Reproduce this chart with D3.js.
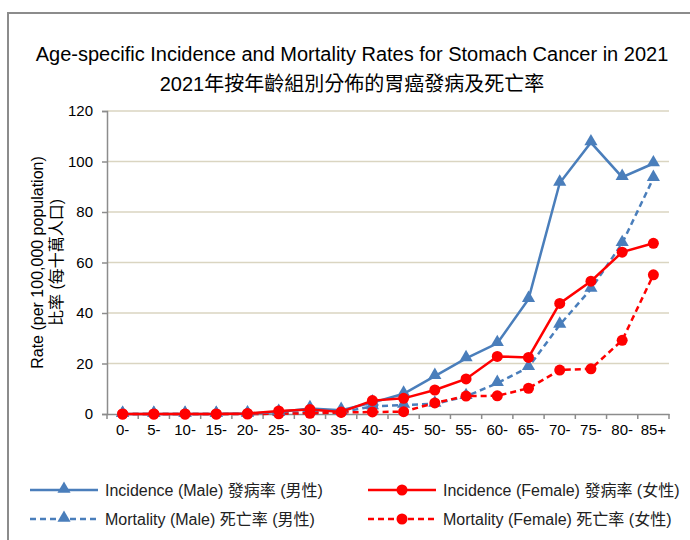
<!DOCTYPE html>
<html>
<head>
<meta charset="utf-8">
<script src="https://cdn.jsdelivr.net/npm/d3@7"></script>
<style>
  body { margin: 0; background: #fff; }
  text { font-family: "Liberation Sans", Arial, "Noto Sans CJK TC", sans-serif; }
</style>
</head>
<body>
<div id="display"></div>
<script>
// age groups and rates (per 100,000)
var ageGroups = ["0-","5-","10-","15-","20-","25-","30-","35-","40-","45-","50-","55-","60-","65-","70-","75-","80-","85+"];
var incidenceMale   = [0, 0, 0, 0, 0.2, 0.8, 2.2, 1.5, 4.5, 8, 15, 22, 28, 45.5, 91.5, 107.5, 93.8, 99.2];
var incidenceFemale = [0, 0, 0, 0, 0.2, 1.2, 1.8, 0.8, 5.3, 6.2, 9.5, 13.9, 22.8, 22.4, 43.8, 52.6, 64.1, 67.6];
var mortalityMale   = [0, 0, 0, 0, 0, 0.3, 0.8, 0.7, 3, 3.6, 4, 7, 12.2, 18.5, 35.3, 49.5, 67.6, 93.4];
var mortalityFemale = [0, 0, 0, 0, 0, 0.1, 0.3, 0.6, 0.8, 0.9, 4.4, 7.1, 7.2, 10.2, 17.4, 17.9, 29.2, 55.1];
var yTicks = [0, 20, 40, 60, 80, 100, 120];

var series = [
  {name: "Incidence (Male) 發病率 (男性)",     values: incidenceMale,   color: "#4A7EBB", dash: null,  marker: "tri"},
  {name: "Incidence (Female) 發病率 (女性)",   values: incidenceFemale, color: "#FF0000", dash: null,  marker: "circle"},
  {name: "Mortality (Male) 死亡率 (男性)",     values: mortalityMale,   color: "#4A7EBB", dash: "6,4", marker: "tri"},
  {name: "Mortality (Female) 死亡率 (女性)",   values: mortalityFemale, color: "#FF0000", dash: "6,4", marker: "circle"}
];

var W = 690, H = 540;
var svg = d3.select("#display").append("svg")
    .attr("width", W).attr("height", H);

// outer frame
svg.append("rect")
    .attr("x", 8).attr("y", 13).attr("width", 700).attr("height", 560)
    .attr("fill", "none").attr("stroke", "#8c8c8c").attr("stroke-width", 2);

// titles
svg.append("text").attr("x", 352).attr("y", 61).attr("text-anchor", "middle")
    .attr("font-size", 20).attr("fill", "#000")
    .text("Age-specific Incidence and Mortality Rates for Stomach Cancer in 2021");
svg.append("text").attr("x", 352).attr("y", 91).attr("text-anchor", "middle")
    .attr("font-size", 20).attr("fill", "#000")
    .text("2021年按年齡組別分佈的胃癌發病及死亡率");

var plotL = 107, plotR = 669, plotT = 111, plotB = 414;

var x = d3.scaleBand().domain(ageGroups).range([plotL, plotR]);
var y = d3.scaleLinear().domain([0, 120]).range([plotB, plotT]);
var cx = function(i) { return x(ageGroups[i]) + x.bandwidth() / 2; };

// gridlines
svg.append("g").selectAll("line")
  .data(yTicks.filter(function(d){ return d > 0; }))
  .enter().append("line")
    .attr("x1", plotL).attr("x2", plotR)
    .attr("y1", function(d){ return y(d); }).attr("y2", function(d){ return y(d); })
    .attr("stroke", "#DAD5C1").attr("stroke-width", 1.5);

// y axis
var yAxis = svg.append("g")
  .attr("transform", "translate(" + plotL + ",0)")
  .call(d3.axisLeft(y).tickValues(yTicks).tickSize(5).tickPadding(9));
yAxis.selectAll("text").attr("font-size", 15).attr("fill", "#000")
    .style("font-family", "'Liberation Sans', Arial, sans-serif");
yAxis.selectAll("line, path").attr("stroke", "#8c8c8c").attr("stroke-width", 1.5);

// x axis (labels centered, ticks between categories)
var xAxis = svg.append("g")
  .attr("transform", "translate(0," + plotB + ")")
  .call(d3.axisBottom(x).tickSize(0).tickPadding(10));
xAxis.select(".domain").attr("stroke", "#8c8c8c").attr("stroke-width", 1.5);
xAxis.selectAll("text").attr("font-size", 15).attr("fill", "#000")
    .style("font-family", "'Liberation Sans', Arial, sans-serif");
var bounds = ageGroups.map(function(d){ return x(d); }).concat([plotR]);
xAxis.selectAll(".btick").data(bounds).enter().append("line")
    .attr("class", "btick")
    .attr("x1", function(d){ return d; }).attr("x2", function(d){ return d; })
    .attr("y1", 0).attr("y2", 5)
    .attr("stroke", "#8c8c8c").attr("stroke-width", 1.5);

// y axis title
var yt = svg.append("text")
  .attr("transform", "translate(43," + ((plotT + plotB) / 2) + ") rotate(-90)")
  .attr("text-anchor", "middle").attr("font-size", 16).attr("fill", "#000");
yt.append("tspan").attr("x", 0).attr("dy", 0).text("Rate (per 100,000 population)");
yt.append("tspan").attr("x", 0).attr("dy", 19).text("比率 (每十萬人口)");

var tri = d3.symbol().type(d3.symbolTriangle).size(75);

function drawMarker(g, type, color, px, py) {
  if (type === "tri") {
    g.append("path").attr("d", tri)
      .attr("transform", "translate(" + px + "," + (py - 1) + ")")
      .attr("fill", color);
  } else {
    g.append("circle").attr("cx", px).attr("cy", py).attr("r", 5.5).attr("fill", color);
  }
}

var line = d3.line()
  .x(function(d, i){ return cx(i); })
  .y(function(d){ return y(d); });

// draw mortality first, incidence on top
[2, 3, 0, 1].forEach(function(k) {
  var s = series[k];
  var g = svg.append("g");
  g.append("path").datum(s.values)
    .attr("d", line)
    .attr("fill", "none").attr("stroke", s.color).attr("stroke-width", 2.5)
    .attr("stroke-dasharray", s.dash);
  s.values.forEach(function(v, i) { drawMarker(g, s.marker, s.color, cx(i), y(v)); });
});

// legend
var legPos = [[30, 490], [368, 490], [30, 519], [368, 519]];
series.forEach(function(s, k) {
  var p = legPos[k];
  var g = svg.append("g").attr("transform", "translate(" + p[0] + "," + p[1] + ")");
  g.append("line").attr("x1", 0).attr("x2", 68).attr("y1", 0).attr("y2", 0)
    .attr("stroke", s.color).attr("stroke-width", 2.5).attr("stroke-dasharray", s.dash);
  drawMarker(g, s.marker, s.color, 34, 0);
  g.append("text").attr("x", 75).attr("y", 5.5).attr("font-size", 16).attr("fill", "#222")
    .text(s.name);
});
</script>
</body>
</html>
